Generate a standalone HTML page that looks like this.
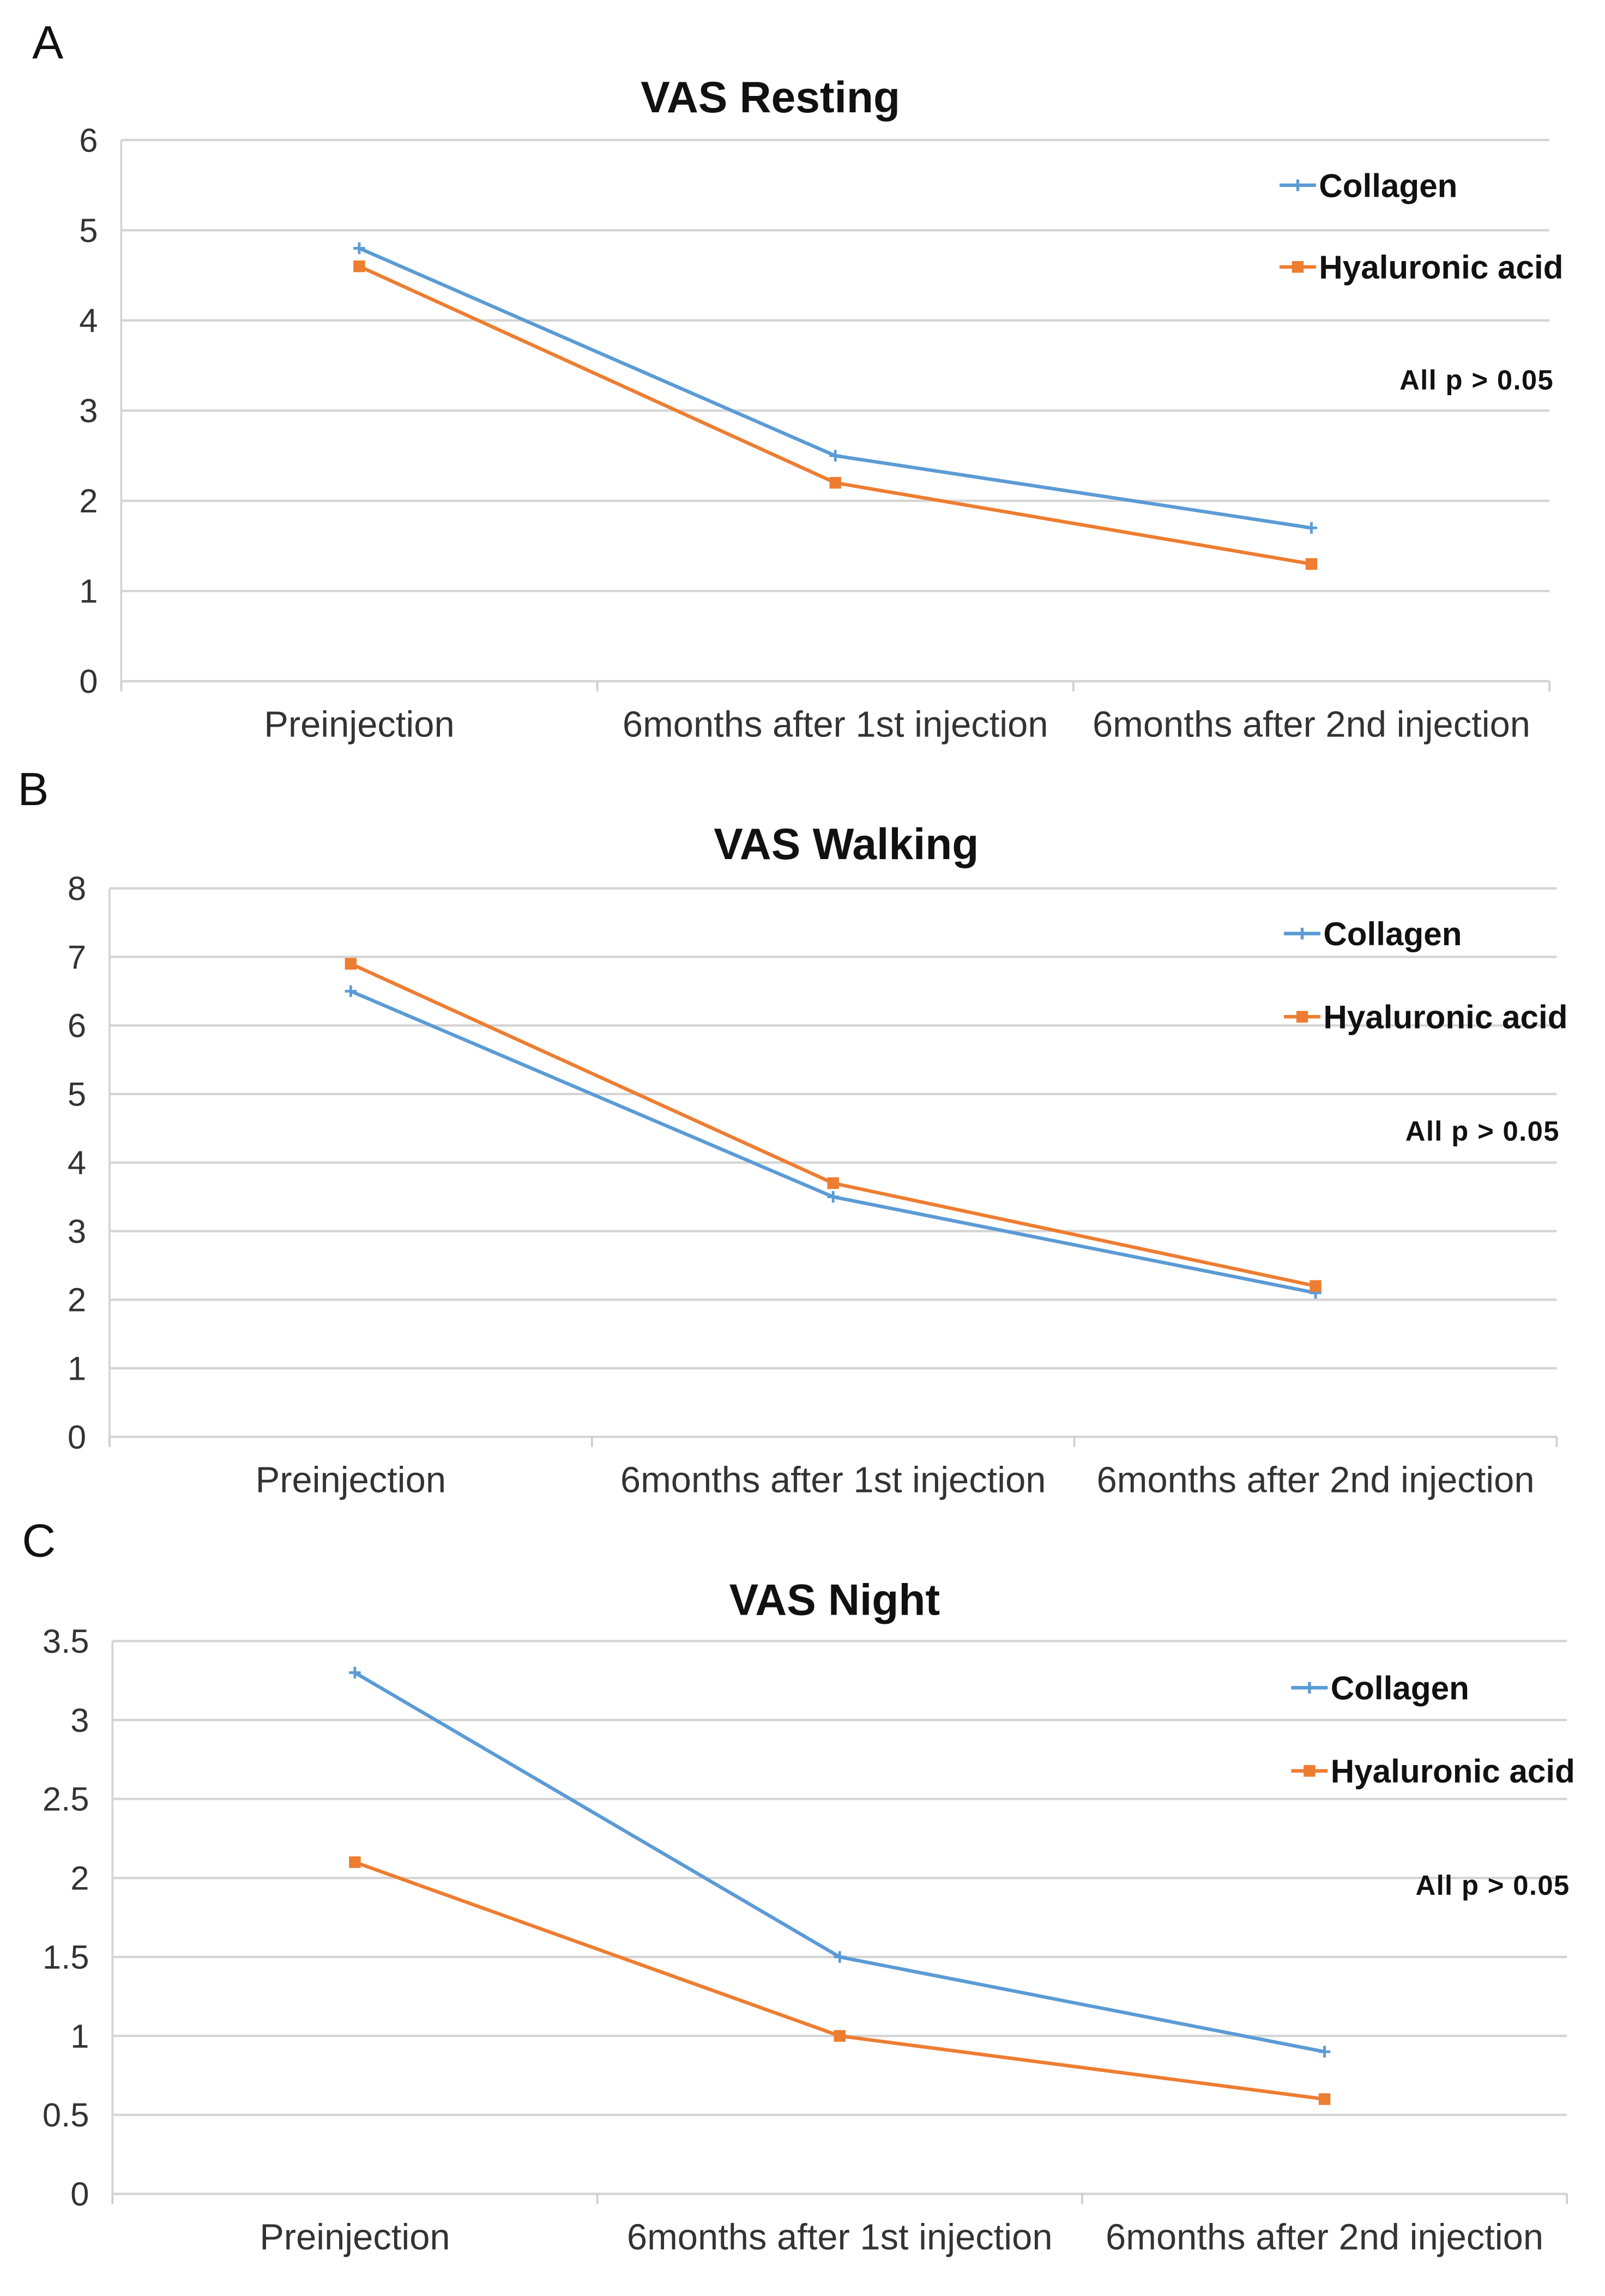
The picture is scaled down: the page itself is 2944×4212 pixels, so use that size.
<!DOCTYPE html>
<html><head><meta charset="utf-8"><style>
html,body{margin:0;padding:0;background:#fff;}
svg{display:block;}
text{font-family:"Liberation Sans","DejaVu Sans",sans-serif;}
</style></head><body>
<svg id="fig" width="2944" height="4212" viewBox="0 0 1100 1574" xmlns="http://www.w3.org/2000/svg"></svg>
<script>
const categories = ["Preinjection","6months after 1st injection","6months after 2nd injection"];
const seriesNames = ["Collagen","Hyaluronic acid"];
const restingCollagen = [4.8, 2.5, 1.7];
const restingHA = [4.6, 2.2, 1.3];
const walkingCollagen = [6.5, 3.5, 2.1];
const walkingHA = [6.9, 3.7, 2.2];
const nightCollagen = [3.3, 1.5, 0.9];
const nightHA = [2.1, 1.0, 0.6];
const restingTicks = ["0","1","2","3","4","5","6"];
const walkingTicks = ["0","1","2","3","4","5","6","7","8"];
const nightTicks = ["0","0.5","1","1.5","2","2.5","3","3.5"];

const NS = "http://www.w3.org/2000/svg";
const svg = document.getElementById('fig');
function mk(tag, attrs, parent){
  const e = document.createElementNS(NS, tag);
  for (const k in attrs) e.setAttribute(k, attrs[k]);
  (parent||svg).appendChild(e);
  return e;
}
const BLUE = "#5b9bd5", ORANGE = "#ed7d31";

function panel(cfg){
  const g = mk('g', {});
  
  
  const x0 = cfg.x0, x1 = cfg.x1, yTop = cfg.yTop, yBot = cfg.yBot;
  const yMax = parseFloat(cfg.ticks[cfg.ticks.length-1]);
  const ys = v => yBot - (v / yMax) * (yBot - yTop);
  const bw = (x1 - x0) / categories.length;
  const xs = i => x0 + bw * (i + 0.5);

  const lt = mk('text', {x: cfg.letterX, y: cfg.letterY, 'font-size': 32, fill: '#111'}, g);
  lt.textContent = cfg.letter;
  
  

  const t = mk('text', {x: cfg.titleX, y: cfg.titleY, 'font-size': 30, 'font-weight': 'bold', 'text-anchor': 'middle', fill: '#111'}, g);
  t.textContent = cfg.title;
  
  

  cfg.ticks.forEach(lbl => {
    const v = parseFloat(lbl);
    const y = ys(v);
    const gl = mk('line', {x1: x0, x2: x1, y1: y, y2: y, stroke: '#d4d4d4', 'stroke-width': 1.6}, g);
    
    
    const tx = mk('text', {x: x0 - 16, y: y + 8, 'font-size': 23, 'text-anchor': 'end', fill: '#333'}, g);
    tx.textContent = lbl;
    
    
  });
  const ax = mk('line', {x1: x0, x2: x0, y1: yTop, y2: yBot + 6, stroke: '#d4d4d4', 'stroke-width': 1.4}, g);
  
  
  for (let i = 0; i <= categories.length; i++){
    const x = x0 + bw * i;
    const tk = mk('line', {x1: x, x2: x, y1: yBot, y2: yBot + 7, stroke: '#cfcfcf', 'stroke-width': 1.4}, g);
    
    
  }
  categories.forEach((c, i) => {
    const tx = mk('text', {x: xs(i), y: yBot + 38, 'font-size': 25, 'text-anchor': 'middle', fill: '#333'}, g);
    tx.textContent = c;
    
    
  });

  const series = [[cfg.col, BLUE, 'collagen'], [cfg.ha, ORANGE, 'hyaluronic-acid']];
  series.forEach(([vals, col, nm]) => {
    const pts = vals.map((v, i) => xs(i) + ',' + ys(v)).join(' ');
    const pl = mk('polyline', {points: pts, fill: 'none', stroke: col, 'stroke-width': 2.4}, g);
    
    
    vals.forEach((v, i) => {
      let m;
      if (nm === 'collagen') {
        m = mk('path', {d: `M${xs(i)-4},${ys(v)}h8M${xs(i)},${ys(v)-4}v8`, stroke: col, 'stroke-width': 1.8}, g);
      } else {
        m = mk('rect', {x: xs(i)-4, y: ys(v)-4, width: 8, height: 8, fill: col}, g);
      }
      
      
    });
  });

  const lx = cfg.legX;
  [[seriesNames[0], BLUE, cfg.legY1, 'collagen'], [seriesNames[1], ORANGE, cfg.legY2, 'hyaluronic-acid']].forEach(([name, col, y, nm]) => {
    const le = mk('g', {}, g);
    
    
    mk('line', {x1: lx, x2: lx + 25, y1: y, y2: y, stroke: col, 'stroke-width': 2.4}, le);
    if (nm === 'collagen') mk('path', {d: `M${lx+12.5},${y-4}v8`, stroke: col, 'stroke-width': 2}, le);
    else mk('rect', {x: lx + 8.5, y: y - 4, width: 8, height: 8, fill: col}, le);
    const tx = mk('text', {x: lx + 27, y: y + 8, 'font-size': 22.5, 'font-weight': 'bold', fill: '#111'}, le);
    tx.textContent = name;
  });
  const p = mk('text', {x: cfg.pX, y: cfg.pY + 7, 'font-size': 19, 'font-weight': 'bold', 'text-anchor': 'end', fill: '#111', 'letter-spacing': 0.5}, g);
  p.textContent = 'All p > 0.05';
  
  
}

panel({id:'a', letter:'A', letterX:22, letterY:40, title:'VAS Resting', titleX:528, titleY:77,
  x0:83, x1:1062, yTop:96, yBot:467, ticks:restingTicks, col:restingCollagen, ha:restingHA,
  legX:877, legY1:127, legY2:183, pX:1065, pY:260});
panel({id:'b', letter:'B', letterX:12, letterY:552, title:'VAS Walking', titleX:580, titleY:589,
  x0:75, x1:1067, yTop:609, yBot:985, ticks:walkingTicks, col:walkingCollagen, ha:walkingHA,
  legX:880, legY1:640, legY2:697, pX:1069, pY:775});
panel({id:'c', letter:'C', letterX:15, letterY:1067, title:'VAS Night', titleX:572, titleY:1107,
  x0:77, x1:1074, yTop:1125, yBot:1504, ticks:nightTicks, col:nightCollagen, ha:nightHA,
  legX:885, legY1:1157, legY2:1214, pX:1076, pY:1292});
</script>
</body></html>
